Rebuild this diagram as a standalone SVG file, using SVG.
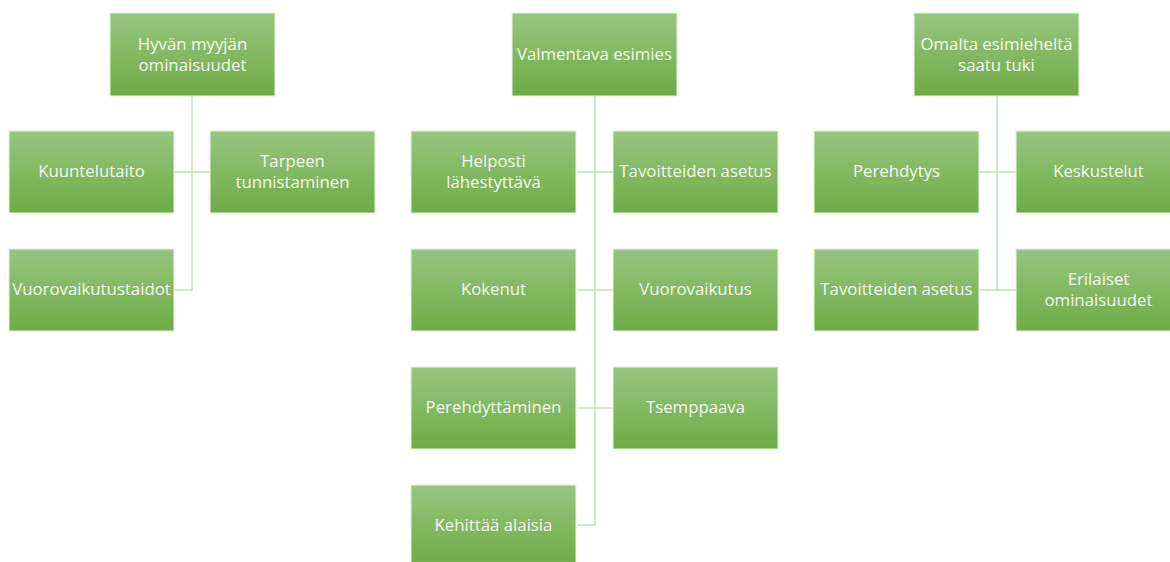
<svg xmlns="http://www.w3.org/2000/svg" width="1170" height="562" viewBox="0 0 1170 562">
<defs>
<linearGradient id="g" x1="0" y1="0" x2="0" y2="1">
<stop offset="0" stop-color="#97c680"/>
<stop offset="0.5" stop-color="#82b962"/>
<stop offset="1" stop-color="#6eab46"/>
</linearGradient>
</defs>
<style>
.b{fill:url(#g);stroke:#e8f2e0;stroke-width:1}
.t{font-family:"Open Sans","Liberation Sans",Arial,sans-serif;font-size:16.8px;fill:#f4f8f0;text-anchor:middle}
.c{fill:none;stroke:#c6e0b8;stroke-width:1.5}
</style>
<rect width="1170" height="562" fill="#ffffff"/>
<g id="connectors">
<path class="c" d="M192 96V290H174M174 172H210"/>
<path class="c" d="M595 96V525H577M577 172H613M577 290H613M577 408H613"/>
<path class="c" d="M997 96V290H979M979 172H1016M997 290H1016"/>
</g>
<g id="n1"><rect class="b" x="110" y="13" width="165" height="83"/><text class="t" x="192.5" y="50">Hyvän myyjän</text><text class="t" x="192.5" y="71">ominaisuudet</text></g>
<g id="n2"><rect class="b" x="9" y="131" width="165" height="82"/><text class="t" x="91.5" y="177">Kuuntelutaito</text></g>
<g id="n3"><rect class="b" x="210" y="131" width="165" height="82"/><text class="t" x="292.5" y="167">Tarpeen</text><text class="t" x="292.5" y="188">tunnistaminen</text></g>
<g id="n4"><rect class="b" x="9" y="249" width="165" height="82"/><text class="t" x="91.5" y="295">Vuorovaikutustaidot</text></g>
<g id="n5"><rect class="b" x="512" y="13" width="165" height="83"/><text class="t" x="594.5" y="60">Valmentava esimies</text></g>
<g id="n6"><rect class="b" x="411" y="131" width="165" height="82"/><text class="t" x="493.5" y="167">Helposti</text><text class="t" x="493.5" y="188">lähestyttävä</text></g>
<g id="n7"><rect class="b" x="613" y="131" width="165" height="82"/><text class="t" x="695.5" y="177">Tavoitteiden asetus</text></g>
<g id="n8"><rect class="b" x="411" y="249" width="165" height="82"/><text class="t" x="493.5" y="295">Kokenut</text></g>
<g id="n9"><rect class="b" x="613" y="249" width="165" height="82"/><text class="t" x="695.5" y="295">Vuorovaikutus</text></g>
<g id="n10"><rect class="b" x="411" y="367" width="165" height="82"/><text class="t" x="493.5" y="413">Perehdyttäminen</text></g>
<g id="n11"><rect class="b" x="613" y="367" width="165" height="82"/><text class="t" x="695.5" y="413">Tsemppaava</text></g>
<g id="n12"><rect class="b" x="411" y="485" width="165" height="82"/><text class="t" x="493.5" y="531">Kehittää alaisia</text></g>
<g id="n13"><rect class="b" x="914" y="13" width="165" height="83"/><text class="t" x="996.5" y="50">Omalta esimieheltä</text><text class="t" x="996.5" y="71">saatu tuki</text></g>
<g id="n14"><rect class="b" x="814" y="131" width="165" height="82"/><text class="t" x="896.5" y="177">Perehdytys</text></g>
<g id="n15"><rect class="b" x="1016" y="131" width="165" height="82"/><text class="t" x="1098.5" y="177">Keskustelut</text></g>
<g id="n16"><rect class="b" x="814" y="249" width="165" height="82"/><text class="t" x="896.5" y="295">Tavoitteiden asetus</text></g>
<g id="n17"><rect class="b" x="1016" y="249" width="165" height="82"/><text class="t" x="1098.5" y="285">Erilaiset</text><text class="t" x="1098.5" y="306">ominaisuudet</text></g>
</svg>
